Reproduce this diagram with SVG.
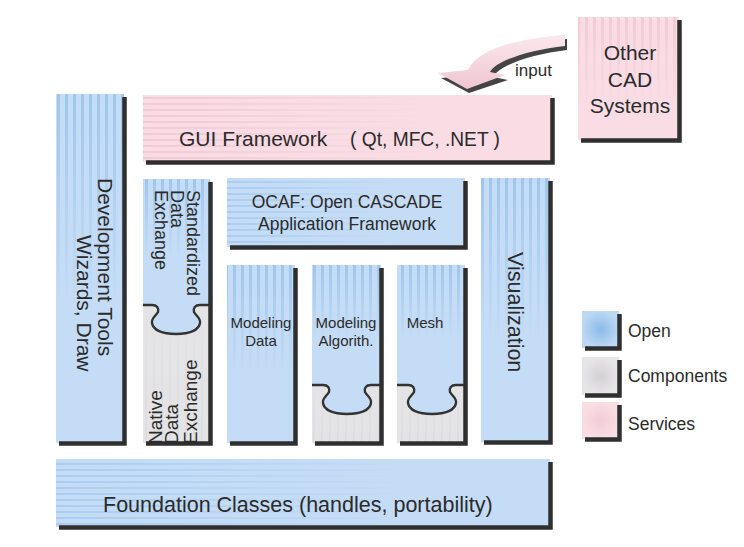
<svg xmlns="http://www.w3.org/2000/svg" width="744" height="547" viewBox="0 0 744 547">
<defs>
<style>
text{font-family:"Liberation Sans",Arial,sans-serif;fill:#2b2b2b}
.blue{fill:#c4dcf5}
.pink{fill:#f9dce4}
.gray{fill:#e4e4e6}
.sd{fill:none;stroke:#2f2f2f;stroke-width:4.5}
.ko{fill:none;stroke:#333333;stroke-width:2.4}
.kf{fill:#c4dcf5}
</style>
<pattern id="vs" width="8" height="10" patternUnits="userSpaceOnUse"><rect x="1" width="3" height="10" fill="#9fc6ec"/></pattern>
<pattern id="hs" width="10" height="6" patternUnits="userSpaceOnUse"><rect y="1" width="10" height="2" fill="#a9ccef"/></pattern>
<pattern id="hsp" width="10" height="6" patternUnits="userSpaceOnUse"><rect y="1" width="10" height="2" fill="#f1c9d4"/></pattern>
<pattern id="vsp" width="8" height="10" patternUnits="userSpaceOnUse"><rect x="1" width="3" height="10" fill="#f1c9d4"/></pattern>
<pattern id="vsg" width="8" height="10" patternUnits="userSpaceOnUse"><rect x="1" width="2" height="10" fill="#d8d8da"/></pattern>
<linearGradient id="fv" x1="0" y1="0" x2="0" y2="1"><stop offset="0" stop-color="#c4dcf5" stop-opacity="0"/><stop offset="0.6" stop-color="#c4dcf5" stop-opacity="1"/></linearGradient>
<linearGradient id="fh" x1="0" y1="0" x2="1" y2="0"><stop offset="0" stop-color="#c4dcf5" stop-opacity="0.05"/><stop offset="0.7" stop-color="#c4dcf5" stop-opacity="1"/></linearGradient>
<linearGradient id="fhp" x1="0" y1="0" x2="1" y2="0"><stop offset="0" stop-color="#f9dce4" stop-opacity="0.05"/><stop offset="0.7" stop-color="#f9dce4" stop-opacity="1"/></linearGradient>
<linearGradient id="fvp" x1="0" y1="0" x2="0" y2="1"><stop offset="0" stop-color="#f9dce4" stop-opacity="0.1"/><stop offset="0.7" stop-color="#f9dce4" stop-opacity="1"/></linearGradient>
<linearGradient id="fvg" x1="0" y1="0" x2="0" y2="1"><stop offset="0" stop-color="#e4e4e6" stop-opacity="1"/><stop offset="1" stop-color="#e4e4e6" stop-opacity="0.4"/></linearGradient>
<linearGradient id="arr" x1="0" y1="0" x2="0" y2="1"><stop offset="0" stop-color="#fbe8ee"/><stop offset="1" stop-color="#efc6d1"/></linearGradient>
<radialGradient id="lb"><stop offset="0" stop-color="#8dbae8"/><stop offset="1" stop-color="#bcd8f4"/></radialGradient>
<radialGradient id="lg"><stop offset="0" stop-color="#d4d0d2"/><stop offset="1" stop-color="#e6e6e8"/></radialGradient>
<radialGradient id="lp"><stop offset="0" stop-color="#f2ccd6"/><stop offset="1" stop-color="#f9dde5"/></radialGradient>
<path id="knob" d="M-24,0 C-19,0 -17,3 -18,7 C-20,11 -25,13 -24,18 C-23,25 -14,29 0,29 C14,29 23,25 24,18 C25,13 20,11 18,7 C17,3 19,0 24,0"/>
</defs>
<rect width="744" height="547" fill="#fff"/>

<g id="connectors">
<path d="M567,39 C530,42 483,49 471,75 L441,78 L469,93 L508,80 L493,77 C500,65 532,54 567,50 Z" fill="#444"/>
<path d="M565,35 C528,38 480,45 468,70 L438,73 L467,89 L505,75 L490,72 C497,60 530,50 565,46 Z" fill="url(#arr)"/>
<text x="515" y="76" font-size="17">input</text>
</g>

<g id="other-cad">
<rect class="pink" x="578" y="17" width="101" height="123"/>
<rect fill="url(#vsp)" x="578" y="17" width="101" height="123"/>
<rect fill="url(#fvp)" x="578" y="17" width="101" height="123"/>
<polyline class="sd" points="679.5,20 679.5,140.5 581,140.5"/>
<text x="630" y="60" font-size="21" text-anchor="middle">Other</text>
<text x="630" y="87" font-size="21" text-anchor="middle">CAD</text>
<text x="630" y="113" font-size="21" text-anchor="middle">Systems</text>
</g>

<g id="gui">
<rect class="pink" x="143" y="95" width="409" height="67"/>
<rect fill="url(#hsp)" x="143" y="95" width="409" height="67"/>
<rect fill="url(#fhp)" x="143" y="95" width="409" height="67"/>
<polyline class="sd" points="552.5,98 552.5,162.5 146,162.5"/>
<text y="146" font-size="21"><tspan x="179">GUI Framework</tspan><tspan x="350" textLength="150" lengthAdjust="spacingAndGlyphs">( Qt, MFC, .NET )</tspan></text>
</g>

<g id="dev-tools">
<rect class="blue" x="56" y="94" width="68" height="349"/>
<rect fill="url(#vs)" x="56" y="94" width="68" height="349"/>
<rect fill="url(#fv)" x="56" y="94" width="68" height="349"/>
<polyline class="sd" points="124.5,97 124.5,443.5 59,443.5"/>
<text transform="translate(98,178) rotate(90)" font-size="21">Development Tools</text>
<text transform="translate(77,235) rotate(90)" font-size="21">Wizards, Draw</text>
</g>

<g id="data-exchange">
<rect class="gray" x="143" y="305" width="67" height="138"/>
<rect fill="url(#vsg)" x="143" y="305" width="67" height="138"/>
<rect fill="url(#fvg)" x="143" y="305" width="67" height="138"/>
<rect class="blue" x="143" y="179" width="67" height="126"/>
<rect fill="url(#vs)" x="143" y="179" width="67" height="126"/>
<rect fill="url(#fv)" x="143" y="179" width="67" height="126"/>
<use href="#knob" class="kf" transform="translate(176,305)"/>
<use href="#knob" class="ko" transform="translate(176,305)"/>
<path class="ko" d="M143,305 H152 M200,305 H209"/>
<polyline class="sd" points="210.5,182 210.5,443.5 146,443.5"/>
<text transform="translate(187,190) rotate(90)" font-size="18">Standardized</text>
<text transform="translate(171,190) rotate(90)" font-size="18">Data</text>
<text transform="translate(155,190) rotate(90)" font-size="18">Exchange</text>
<text transform="translate(162,444) rotate(-90)" font-size="19">Native</text>
<text transform="translate(178,444) rotate(-90)" font-size="19">Data</text>
<text transform="translate(197,444) rotate(-90)" font-size="19">Exchange</text>
</g>

<g id="ocaf">
<rect class="blue" x="227" y="178" width="238" height="69"/>
<rect fill="url(#hs)" x="227" y="178" width="238" height="69"/>
<rect fill="url(#fh)" x="227" y="178" width="238" height="69"/>
<polyline class="sd" points="465.5,181 465.5,247.5 230,247.5"/>
<text x="347" y="208" font-size="17.5" text-anchor="middle">OCAF: Open CASCADE</text>
<text x="347" y="230" font-size="17.5" text-anchor="middle">Application Framework</text>
</g>

<g id="modeling-data">
<rect class="blue" x="227" y="265" width="68" height="178"/>
<rect fill="url(#vs)" x="227" y="265" width="68" height="178"/>
<rect fill="url(#fv)" x="227" y="265" width="68" height="178"/>
<polyline class="sd" points="295.5,268 295.5,443.5 230,443.5"/>
<text x="261" y="328" font-size="15" text-anchor="middle">Modeling</text>
<text x="261" y="346" font-size="15" text-anchor="middle">Data</text>
</g>

<g id="modeling-algorithms">
<rect class="gray" x="312" y="385" width="69" height="58"/>
<rect fill="url(#vsg)" x="312" y="385" width="69" height="58"/>
<rect fill="url(#fvg)" x="312" y="385" width="69" height="58"/>
<rect class="blue" x="312" y="265" width="69" height="120"/>
<rect fill="url(#vs)" x="312" y="265" width="69" height="120"/>
<rect fill="url(#fv)" x="312" y="265" width="69" height="120"/>
<use href="#knob" class="kf" transform="translate(347,385)"/>
<use href="#knob" class="ko" transform="translate(347,385)"/>
<path class="ko" d="M312,385 H323 M371,385 H380"/>
<polyline class="sd" points="381.5,268 381.5,443.5 315,443.5"/>
<text x="346" y="328" font-size="15" text-anchor="middle">Modeling</text>
<text x="346" y="346" font-size="15" text-anchor="middle">Algorith.</text>
</g>

<g id="mesh">
<rect class="gray" x="397" y="385" width="68" height="58"/>
<rect fill="url(#vsg)" x="397" y="385" width="68" height="58"/>
<rect fill="url(#fvg)" x="397" y="385" width="68" height="58"/>
<rect class="blue" x="397" y="265" width="68" height="120"/>
<rect fill="url(#vs)" x="397" y="265" width="68" height="120"/>
<rect fill="url(#fv)" x="397" y="265" width="68" height="120"/>
<use href="#knob" class="kf" transform="translate(432,385)"/>
<use href="#knob" class="ko" transform="translate(432,385)"/>
<path class="ko" d="M397,385 H408 M456,385 H464"/>
<polyline class="sd" points="465.5,268 465.5,443.5 400,443.5"/>
<text x="425" y="328" font-size="15" text-anchor="middle">Mesh</text>
</g>

<g id="visualization">
<rect class="blue" x="481" y="178" width="69" height="264"/>
<rect fill="url(#vs)" x="481" y="178" width="69" height="264"/>
<rect fill="url(#fv)" x="481" y="178" width="69" height="264"/>
<polyline class="sd" points="550.5,181 550.5,442.5 484,442.5"/>
<text transform="translate(508,252) rotate(90)" font-size="21.5">Visualization</text>
</g>

<g id="foundation">
<rect class="blue" x="56" y="459" width="494" height="68"/>
<rect fill="url(#hs)" x="56" y="459" width="494" height="68"/>
<rect fill="url(#fh)" x="56" y="459" width="494" height="68"/>
<polyline class="sd" points="550.5,462 550.5,527.5 59,527.5"/>
<text x="103" y="512" font-size="21.5">Foundation Classes (handles, portability)</text>
</g>

<g id="legend">
<rect x="582" y="311" width="37" height="37" fill="url(#lb)"/>
<polyline class="sd" points="619.5,314 619.5,348.5 585,348.5"/>
<text x="628" y="337" font-size="17.5">Open</text>
<rect x="582" y="357" width="37" height="38" fill="url(#lg)"/>
<polyline class="sd" points="619.5,360 619.5,395.5 585,395.5"/>
<text x="628" y="382" font-size="17.5">Components</text>
<rect x="582" y="402" width="37" height="37" fill="url(#lp)"/>
<polyline class="sd" points="619.5,405 619.5,439.5 585,439.5"/>
<text x="628" y="430" font-size="17.5">Services</text>
</g>
</svg>
